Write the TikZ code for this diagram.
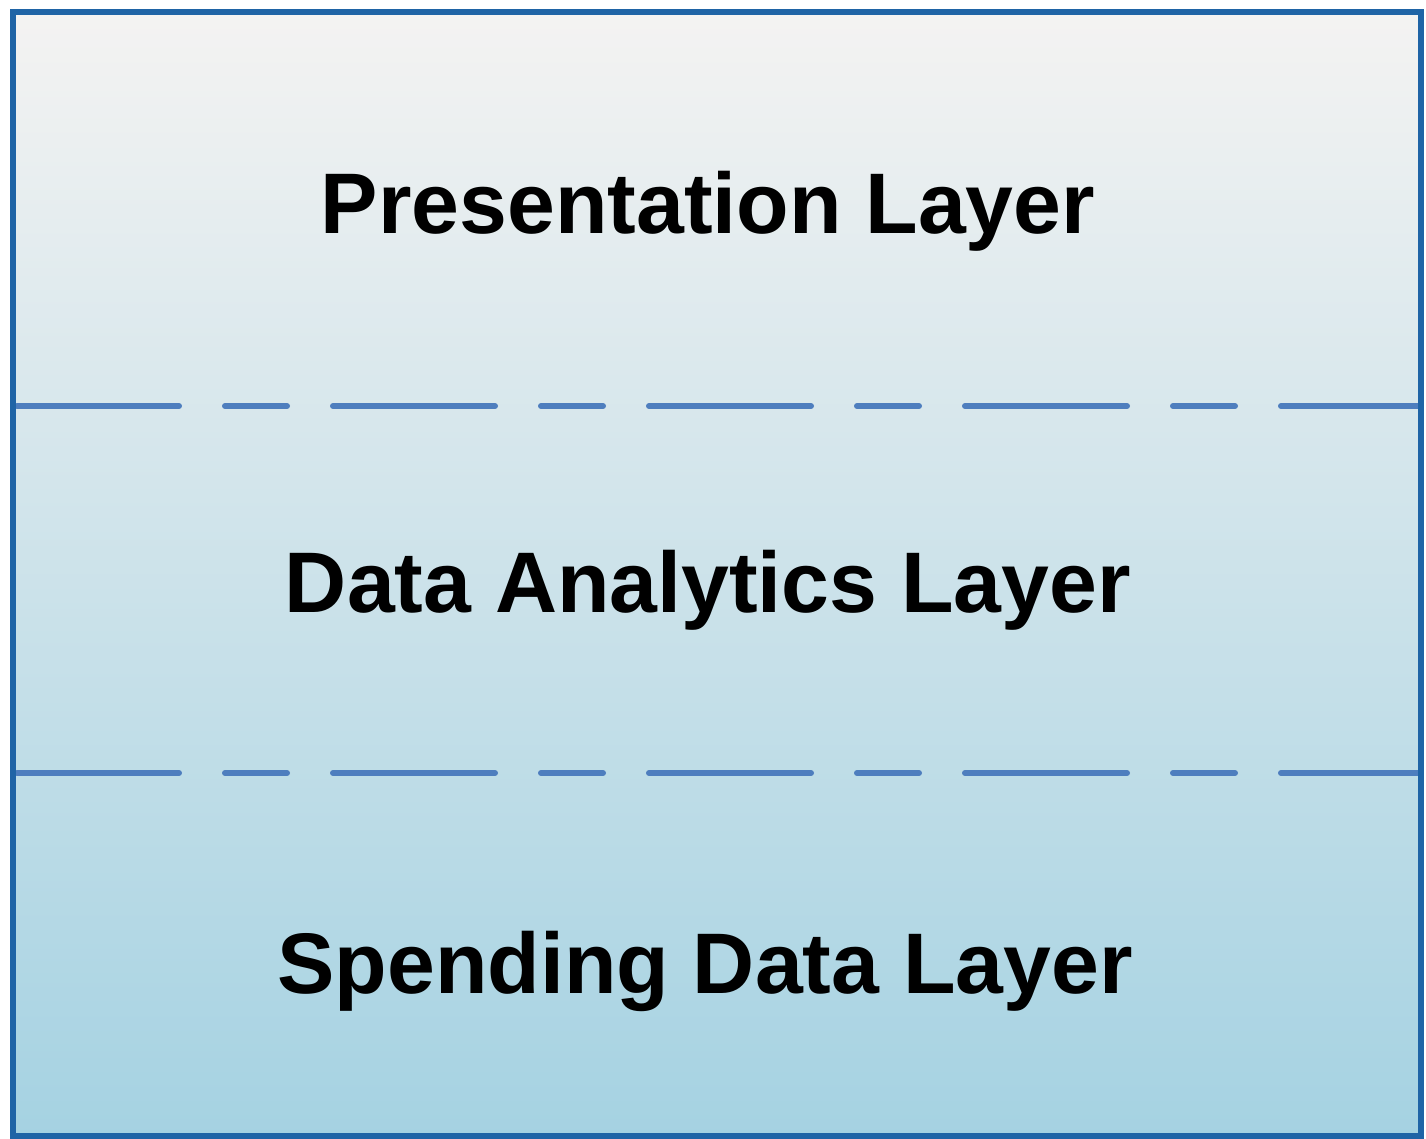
\documentclass[tikz,border=0pt]{standalone}
\usepackage{fontspec}
\setmainfont{Liberation Sans}
\definecolor{frameblue}{HTML}{1F64A6}
\definecolor{dashblue}{HTML}{4E7EBE}
\definecolor{topgray}{HTML}{F4F3F2}
\definecolor{botblue}{HTML}{A5D2E2}
\begin{document}
\begin{tikzpicture}[x=0.5pt,y=-0.5pt,
  layertext/.style={font=\fontsize{43}{50}\selectfont\bfseries, text=black, inner sep=0pt},
  sepline/.style={draw=dashblue, line width=3pt, line cap=round,
    dash pattern=on 81pt off 23pt on 31pt off 23pt}]
\useasboundingbox (0,0) rectangle (1426,1139);
\shade[top color=topgray, bottom color=botblue] (13,12) rectangle (1421,1136);
\draw[sepline] (17,406) -- (1418,406);
\draw[sepline] (17,773) -- (1418,773);
\draw[frameblue, line width=2.6pt] (13,12) rectangle (1421,1136);
\node[layertext] (pres) at (708,211) {Presentation Layer};
\node[layertext] (anal) at (708,590) {Data Analytics Layer};
\node[layertext] (spend) at (705,971) {Spending Data Layer};
\end{tikzpicture}
\end{document}
